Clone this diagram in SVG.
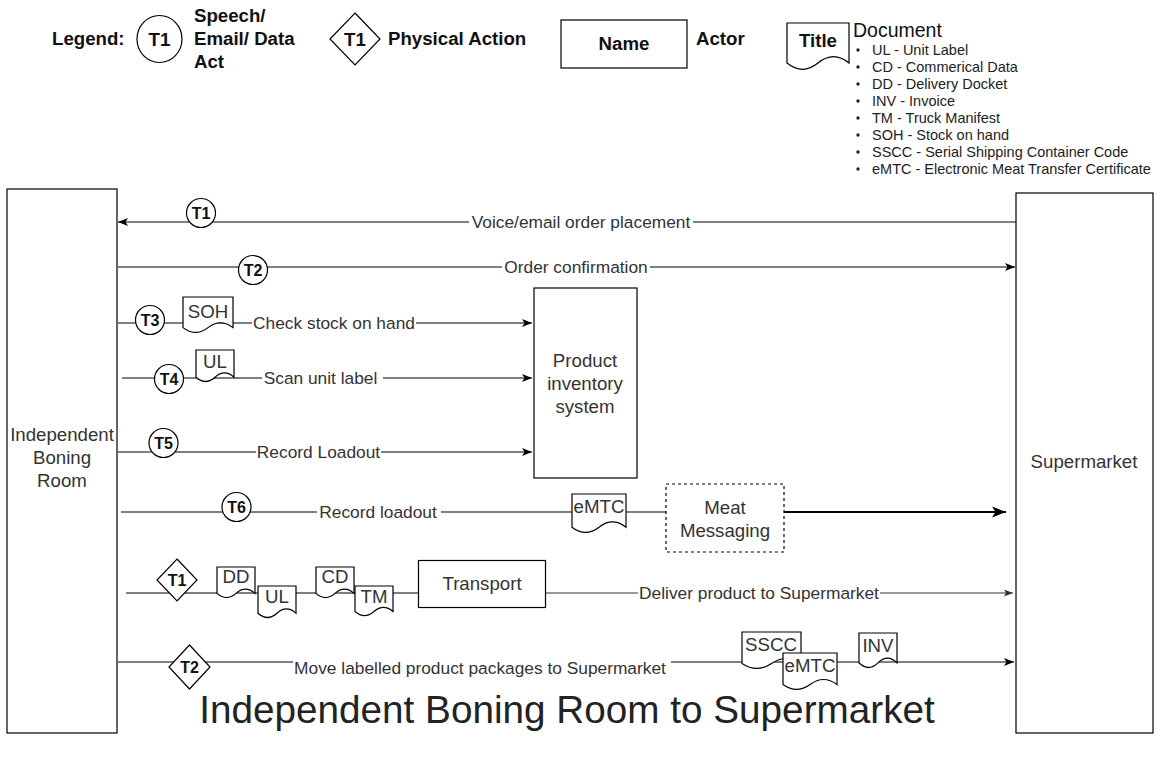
<svg xmlns="http://www.w3.org/2000/svg" width="1163" height="758" viewBox="0 0 1163 758">
  <defs>
    <style>
      text { font-family: "Liberation Sans", Arial, sans-serif; }
      .shape { fill: #fff; stroke: #000; stroke-width: 1.2; }
      .dash { fill: #fff; stroke: #000; stroke-width: 1.2; stroke-dasharray: 3 3; }
      .ln { fill: none; stroke: #000; stroke-width: 1.1; }
      .ln-bold { fill: none; stroke: #000; stroke-width: 2; }
      .ln-thin { fill: none; stroke: #333; stroke-width: 1; }
      .bg { fill: #fff; }
      .lbl { font-size: 17.33px; fill: #333; text-anchor: middle; }
      .nd { font-size: 18.67px; fill: #333; text-anchor: middle; }
      .tk { font-size: 16px; font-weight: bold; fill: #111; text-anchor: middle; }
      .lg { font-size: 18.67px; font-weight: bold; fill: #111; }
      .bul { font-size: 14.5px; fill: #222; }
      .title { font-size: 38.7px; fill: #222; text-anchor: middle; }
    </style>
    <marker id="arrow" viewBox="0 0 10 8" refX="10" refY="4" markerWidth="10" markerHeight="8" markerUnits="userSpaceOnUse" orient="auto">
      <path d="M0,0 L10,4 L0,8 L2.5,4 Z" fill="#000"/>
    </marker>
    <marker id="arrow-lg" viewBox="0 0 14 11" refX="14" refY="5.5" markerWidth="14" markerHeight="11" markerUnits="userSpaceOnUse" orient="auto">
      <path d="M0,0 L14,5.5 L0,11 L3.5,5.5 Z" fill="#000"/>
    </marker>
    <marker id="arrow-sm" viewBox="0 0 9 7" refX="9" refY="3.5" markerWidth="9" markerHeight="7" markerUnits="userSpaceOnUse" orient="auto">
      <path d="M0,0 L9,3.5 L0,7 L2,3.5 Z" fill="#333"/>
    </marker>
  </defs>

  <rect width="1163" height="758" fill="#fff"/>

  <!-- Legend -->
  <g id="legend">
    <text class="lg" x="52" y="45">Legend:</text>
    <ellipse class="shape" cx="159.5" cy="39" rx="22.5" ry="23.5"/>
    <text class="lg" x="159.5" y="45.5" text-anchor="middle">T1</text>
    <text class="lg" x="194" y="22">Speech/</text>
    <text class="lg" x="194" y="45">Email/ Data</text>
    <text class="lg" x="194" y="68">Act</text>

    <polygon class="shape" points="355,13 380,39 355,65 330,39"/>
    <text class="lg" x="355" y="45.5" text-anchor="middle">T1</text>
    <text class="lg" x="388" y="45">Physical Action</text>

    <rect class="shape" x="561" y="20" width="126" height="48"/>
    <text class="lg" x="624" y="50" text-anchor="middle">Name</text>
    <text class="lg" x="696" y="45">Actor</text>

    <path class="shape" d="M787,23 H849 V63 Q833.5,50.3 818,63 Q802.5,75.6 787,63 Z"/>
    <text class="lg" x="818" y="47" text-anchor="middle" font-size="18">Title</text>
    <text x="853" y="37" font-size="19.5" fill="#111">Document</text>
    <g class="bul">
      <circle cx="858" cy="50" r="1.7" fill="#222"/><text x="872" y="55">UL - Unit Label</text>
      <circle cx="858" cy="67" r="1.7" fill="#222"/><text x="872" y="72">CD - Commerical Data</text>
      <circle cx="858" cy="84" r="1.7" fill="#222"/><text x="872" y="89">DD - Delivery Docket</text>
      <circle cx="858" cy="101" r="1.7" fill="#222"/><text x="872" y="106">INV - Invoice</text>
      <circle cx="858" cy="118" r="1.7" fill="#222"/><text x="872" y="123">TM - Truck Manifest</text>
      <circle cx="858" cy="135" r="1.7" fill="#222"/><text x="872" y="140">SOH - Stock on hand</text>
      <circle cx="858" cy="152" r="1.7" fill="#222"/><text x="872" y="157">SSCC - Serial Shipping Container Code</text>
      <circle cx="858" cy="169" r="1.7" fill="#222"/><text x="872" y="174">eMTC - Electronic Meat Transfer Certificate</text>
    </g>
  </g>

  <!-- Actors -->
  <g id="independent-boning-room">
    <rect class="shape" x="7" y="189" width="110" height="544"/>
    <text class="nd" x="62" y="441">Independent</text>
    <text class="nd" x="62" y="464">Boning</text>
    <text class="nd" x="62" y="487">Room</text>
  </g>
  <g id="supermarket">
    <rect class="shape" x="1016" y="193" width="137" height="540"/>
    <text class="nd" x="1084" y="467.5">Supermarket</text>
  </g>

  <!-- Connectors -->
  <g id="connectors">
    <g id="c-voice-order">
      <line class="ln" x1="1016" y1="222" x2="118" y2="222" marker-end="url(#arrow)"/>
      <rect class="bg" x="469" y="212" width="224" height="20"/>
      <text class="lbl" x="581" y="228">Voice/email order placement</text>
    </g>
    <g id="c-order-confirmation">
      <line class="ln" x1="118" y1="267" x2="1015" y2="267" marker-end="url(#arrow)"/>
      <rect class="bg" x="502" y="257" width="148" height="20"/>
      <text class="lbl" x="576" y="273">Order confirmation</text>
    </g>
    <g id="c-check-stock">
      <line class="ln" x1="118" y1="323" x2="532" y2="323" marker-end="url(#arrow)"/>
      <rect class="bg" x="252" y="313" width="164" height="20"/>
      <text class="lbl" x="334" y="329">Check stock on hand</text>
    </g>
    <g id="c-scan-label">
      <line class="ln" x1="122" y1="378" x2="532" y2="378" marker-end="url(#arrow)"/>
      <rect class="bg" x="262" y="368" width="121" height="20"/>
      <text class="lbl" x="320.5" y="384">Scan unit label</text>
    </g>
    <g id="c-record-loadout-inventory">
      <line class="ln" x1="118" y1="452" x2="532" y2="452" marker-end="url(#arrow)"/>
      <rect class="bg" x="256" y="442" width="125" height="20"/>
      <text class="lbl" x="318.5" y="458">Record Loadout</text>
    </g>
    <g id="c-record-loadout-messaging">
      <line class="ln" x1="121" y1="512" x2="666" y2="512"/>
      <line class="ln-bold" x1="784" y1="512" x2="1006" y2="512" marker-end="url(#arrow-lg)"/>
      <rect class="bg" x="317" y="502" width="124" height="20"/>
      <text class="lbl" x="378" y="518">Record loadout</text>
    </g>
    <g id="c-deliver">
      <line class="ln" x1="126" y1="593" x2="418" y2="593"/>
      <line class="ln-thin" x1="546" y1="593" x2="1013" y2="593" marker-end="url(#arrow-sm)"/>
      <rect class="bg" x="638" y="583" width="242" height="20"/>
      <text class="lbl" x="759" y="599">Deliver product to Supermarket</text>
    </g>
    <g id="c-move-packages">
      <line class="ln" x1="118" y1="662" x2="1014" y2="662" marker-end="url(#arrow)"/>
      <rect class="bg" x="293" y="655" width="378" height="24"/>
      <text class="lbl" x="480" y="674">Move labelled product packages to Supermarket</text>
    </g>
  </g>

  <!-- Systems -->
  <g id="product-inventory-system">
    <rect class="shape" x="534" y="288" width="103" height="190"/>
    <text class="nd" x="585" y="366.5">Product</text>
    <text class="nd" x="585" y="389.5">inventory</text>
    <text class="nd" x="585" y="412.5">system</text>
  </g>
  <g id="meat-messaging">
    <rect class="dash" x="666" y="484" width="118" height="68"/>
    <text class="nd" x="725" y="514">Meat</text>
    <text class="nd" x="725" y="537">Messaging</text>
  </g>
  <g id="transport">
    <rect class="shape" x="418.5" y="560.5" width="127" height="47"/>
    <text class="nd" x="482" y="590">Transport</text>
  </g>

  <!-- Transactions -->
  <g id="t1-order-placement">
    <circle class="shape" cx="201" cy="213" r="14.5"/>
    <text class="tk" x="201" y="218.7">T1</text>
  </g>
  <g id="t2-order-confirmation">
    <circle class="shape" cx="253" cy="270" r="14.5"/>
    <text class="tk" x="253" y="275.7">T2</text>
  </g>
  <g id="t3-check-stock">
    <circle class="shape" cx="150" cy="320" r="14.5"/>
    <text class="tk" x="150" y="325.7">T3</text>
  </g>
  <g id="t4-scan-label">
    <circle class="shape" cx="169" cy="379" r="14.5"/>
    <text class="tk" x="169" y="384.7">T4</text>
  </g>
  <g id="t5-record-loadout">
    <circle class="shape" cx="163.5" cy="443" r="14.5"/>
    <text class="tk" x="163.5" y="448.7">T5</text>
  </g>
  <g id="t6-record-loadout">
    <circle class="shape" cx="236.5" cy="507" r="14.5"/>
    <text class="tk" x="236.5" y="512.7">T6</text>
  </g>
  <g id="p1-deliver">
    <polygon class="shape" points="177,559 197,580 177,601 157,580"/>
    <text class="tk" x="177" y="585.7">T1</text>
  </g>
  <g id="p2-move-packages">
    <polygon class="shape" points="189.5,645 210,667 189.5,689 169,667"/>
    <text class="tk" x="189.5" y="672.7">T2</text>
  </g>

  <!-- Documents -->
  <g id="doc-soh">
    <path class="shape" d="M183,297 H233 V327.6 Q220.5,317.9 208,327.6 Q195.5,337.3 183,327.6 Z"/>
    <text class="nd" x="208" y="318">SOH</text>
  </g>
  <g id="doc-ul-scan">
    <path class="shape" d="M196,350 H234 V377.2 Q224.5,368.6 215,377.2 Q205.5,385.8 196,377.2 Z"/>
    <text class="nd" x="215" y="368">UL</text>
  </g>
  <g id="doc-emtc-loadout">
    <path class="shape" d="M572,494 H626 V527.2 Q612.5,516.6 599,527.2 Q585.5,537.7 572,527.2 Z"/>
    <text class="nd" x="599" y="513">eMTC</text>
  </g>
  <g id="doc-dd">
    <path class="shape" d="M217,567 H255 V593.4 Q245.5,585 236,593.4 Q226.5,601.7 217,593.4 Z"/>
    <text class="nd" x="236" y="583">DD</text>
  </g>
  <g id="doc-ul-deliver">
    <path class="shape" d="M258,586 H296 V613.2 Q286.5,604.6 277,613.2 Q267.5,621.8 258,613.2 Z"/>
    <text class="nd" x="277" y="603">UL</text>
  </g>
  <g id="doc-cd">
    <path class="shape" d="M316,567 H354 V593.4 Q344.5,585 335,593.4 Q325.5,601.7 316,593.4 Z"/>
    <text class="nd" x="335" y="583">CD</text>
  </g>
  <g id="doc-tm">
    <path class="shape" d="M355,586 H393 V611.5 Q383.5,603.4 374,611.5 Q364.5,619.6 355,611.5 Z"/>
    <text class="nd" x="374" y="603">TM</text>
  </g>
  <g id="doc-sscc">
    <path class="shape" d="M742,632 H801 V663.5 Q786.3,653.5 771.5,663.5 Q756.8,673.4 742,663.5 Z"/>
    <text class="nd" x="771" y="651">SSCC</text>
  </g>
  <g id="doc-emtc-move">
    <path class="shape" d="M783,653 H837 V684.5 Q823.5,674.5 810,684.5 Q796.5,694.4 783,684.5 Z"/>
    <text class="nd" x="810" y="672">eMTC</text>
  </g>
  <g id="doc-inv">
    <path class="shape" d="M859,633 H897 V662.8 Q887.5,653.3 878,662.8 Q868.5,672.2 859,662.8 Z"/>
    <text class="nd" x="878" y="652">INV</text>
  </g>

  <text class="title" x="567" y="723">Independent Boning Room to Supermarket</text>
</svg>
